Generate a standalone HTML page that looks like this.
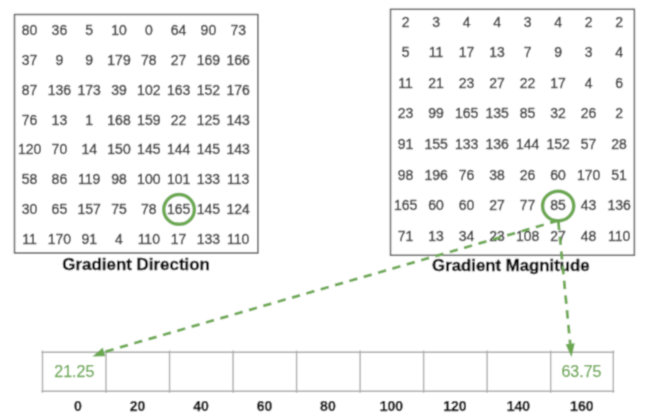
<!DOCTYPE html>
<html><head><meta charset="utf-8"><style>
html,body{margin:0;padding:0;background:#fff;}
svg{display:block;}
</style></head><body>
<svg width="648" height="420" viewBox="0 0 648 420">
<defs><filter id="bl" x="0" y="0" width="648" height="420" filterUnits="userSpaceOnUse"><feConvolveMatrix order="3" kernelMatrix="0.04 0.12 0.04 0.12 0.36 0.12 0.04 0.12 0.04" edgeMode="duplicate"/></filter></defs>
<g filter="url(#bl)">
<rect x="0" y="0" width="648" height="420" fill="#fff"/>
<g fill="none" stroke="#5a5a5a" stroke-width="1.5">
<rect x="14.5" y="14.5" width="243.4" height="238.5"/>
<rect x="390.5" y="9.3" width="243.9" height="246.0"/>
</g>
<g font-family="'Liberation Sans', sans-serif" font-size="14" fill="#383838" stroke="#383838" stroke-width="0.4" text-anchor="middle">
<text x="29.60" y="35.00">80</text>
<text x="59.40" y="35.00">36</text>
<text x="89.20" y="35.00">5</text>
<text x="119.00" y="35.00">10</text>
<text x="148.80" y="35.00">0</text>
<text x="178.60" y="35.00">64</text>
<text x="208.40" y="35.00">90</text>
<text x="238.20" y="35.00">73</text>
<text x="29.60" y="64.85">37</text>
<text x="59.40" y="64.85">9</text>
<text x="89.20" y="64.85">9</text>
<text x="119.00" y="64.85">179</text>
<text x="148.80" y="64.85">78</text>
<text x="178.60" y="64.85">27</text>
<text x="208.40" y="64.85">169</text>
<text x="238.20" y="64.85">166</text>
<text x="29.60" y="94.70">87</text>
<text x="59.40" y="94.70">136</text>
<text x="89.20" y="94.70">173</text>
<text x="119.00" y="94.70">39</text>
<text x="148.80" y="94.70">102</text>
<text x="178.60" y="94.70">163</text>
<text x="208.40" y="94.70">152</text>
<text x="238.20" y="94.70">176</text>
<text x="29.60" y="124.55">76</text>
<text x="59.40" y="124.55">13</text>
<text x="89.20" y="124.55">1</text>
<text x="119.00" y="124.55">168</text>
<text x="148.80" y="124.55">159</text>
<text x="178.60" y="124.55">22</text>
<text x="208.40" y="124.55">125</text>
<text x="238.20" y="124.55">143</text>
<text x="29.60" y="154.40">120</text>
<text x="59.40" y="154.40">70</text>
<text x="89.20" y="154.40">14</text>
<text x="119.00" y="154.40">150</text>
<text x="148.80" y="154.40">145</text>
<text x="178.60" y="154.40">144</text>
<text x="208.40" y="154.40">145</text>
<text x="238.20" y="154.40">143</text>
<text x="29.60" y="184.25">58</text>
<text x="59.40" y="184.25">86</text>
<text x="89.20" y="184.25">119</text>
<text x="119.00" y="184.25">98</text>
<text x="148.80" y="184.25">100</text>
<text x="178.60" y="184.25">101</text>
<text x="208.40" y="184.25">133</text>
<text x="238.20" y="184.25">113</text>
<text x="29.60" y="214.10">30</text>
<text x="59.40" y="214.10">65</text>
<text x="89.20" y="214.10">157</text>
<text x="119.00" y="214.10">75</text>
<text x="148.80" y="214.10">78</text>
<text x="178.60" y="214.10">165</text>
<text x="208.40" y="214.10">145</text>
<text x="238.20" y="214.10">124</text>
<text x="29.60" y="243.95">11</text>
<text x="59.40" y="243.95">170</text>
<text x="89.20" y="243.95">91</text>
<text x="119.00" y="243.95">4</text>
<text x="148.80" y="243.95">110</text>
<text x="178.60" y="243.95">17</text>
<text x="208.40" y="243.95">133</text>
<text x="238.20" y="243.95">110</text>
<text x="405.60" y="26.50">2</text>
<text x="436.10" y="26.50">3</text>
<text x="466.60" y="26.50">4</text>
<text x="497.10" y="26.50">4</text>
<text x="527.60" y="26.50">3</text>
<text x="558.10" y="26.50">4</text>
<text x="588.60" y="26.50">2</text>
<text x="619.10" y="26.50">2</text>
<text x="405.60" y="57.10">5</text>
<text x="436.10" y="57.10">11</text>
<text x="466.60" y="57.10">17</text>
<text x="497.10" y="57.10">13</text>
<text x="527.60" y="57.10">7</text>
<text x="558.10" y="57.10">9</text>
<text x="588.60" y="57.10">3</text>
<text x="619.10" y="57.10">4</text>
<text x="405.60" y="87.70">11</text>
<text x="436.10" y="87.70">21</text>
<text x="466.60" y="87.70">23</text>
<text x="497.10" y="87.70">27</text>
<text x="527.60" y="87.70">22</text>
<text x="558.10" y="87.70">17</text>
<text x="588.60" y="87.70">4</text>
<text x="619.10" y="87.70">6</text>
<text x="405.60" y="118.30">23</text>
<text x="436.10" y="118.30">99</text>
<text x="466.60" y="118.30">165</text>
<text x="497.10" y="118.30">135</text>
<text x="527.60" y="118.30">85</text>
<text x="558.10" y="118.30">32</text>
<text x="588.60" y="118.30">26</text>
<text x="619.10" y="118.30">2</text>
<text x="405.60" y="148.90">91</text>
<text x="436.10" y="148.90">155</text>
<text x="466.60" y="148.90">133</text>
<text x="497.10" y="148.90">136</text>
<text x="527.60" y="148.90">144</text>
<text x="558.10" y="148.90">152</text>
<text x="588.60" y="148.90">57</text>
<text x="619.10" y="148.90">28</text>
<text x="405.60" y="179.50">98</text>
<text x="436.10" y="179.50">196</text>
<text x="466.60" y="179.50">76</text>
<text x="497.10" y="179.50">38</text>
<text x="527.60" y="179.50">26</text>
<text x="558.10" y="179.50">60</text>
<text x="588.60" y="179.50">170</text>
<text x="619.10" y="179.50">51</text>
<text x="405.60" y="210.10">165</text>
<text x="436.10" y="210.10">60</text>
<text x="466.60" y="210.10">60</text>
<text x="497.10" y="210.10">27</text>
<text x="527.60" y="210.10">77</text>
<text x="558.10" y="210.10">85</text>
<text x="588.60" y="210.10">43</text>
<text x="619.10" y="210.10">136</text>
<text x="405.60" y="240.70">71</text>
<text x="436.10" y="240.70">13</text>
<text x="466.60" y="240.70">34</text>
<text x="497.10" y="240.70">23</text>
<text x="527.60" y="240.70">108</text>
<text x="558.10" y="240.70">27</text>
<text x="588.60" y="240.70">48</text>
<text x="619.10" y="240.70">110</text>
</g>
<g font-family="'Liberation Sans', sans-serif" font-size="16.4" font-weight="bold" fill="#000" stroke="#000" stroke-width="0.35">
<text x="62.3" y="270.4" textLength="147.6" lengthAdjust="spacingAndGlyphs">Gradient Direction</text>
<text x="432.1" y="270.6" textLength="157.5" lengthAdjust="spacingAndGlyphs">Gradient Magnitude</text>
</g>
<g fill="none" stroke="#6aa84f" stroke-width="3.5">
<ellipse cx="179.05" cy="209.4" rx="15.3" ry="14.85"/>
<ellipse cx="558.15" cy="205.95" rx="15.6" ry="14.8"/>
</g>
<g fill="none" stroke="#aaaaaa" stroke-width="1.4">
<line x1="41.50" y1="352.3" x2="614.30" y2="352.3"/>
<line x1="41.50" y1="391.2" x2="614.30" y2="391.2"/>
<line x1="42.50" y1="350.6" x2="42.50" y2="392.8"/>
<line x1="613.30" y1="350.6" x2="613.30" y2="392.8"/>
<line x1="106.02" y1="350.6" x2="106.02" y2="392.8"/>
<line x1="169.54" y1="350.6" x2="169.54" y2="392.8"/>
<line x1="233.06" y1="350.6" x2="233.06" y2="392.8"/>
<line x1="296.58" y1="350.6" x2="296.58" y2="392.8"/>
<line x1="360.10" y1="350.6" x2="360.10" y2="392.8"/>
<line x1="423.62" y1="350.6" x2="423.62" y2="392.8"/>
<line x1="487.14" y1="350.6" x2="487.14" y2="392.8"/>
<line x1="550.66" y1="350.6" x2="550.66" y2="392.8"/>
</g>
<g fill="none" stroke="#6aa84f" stroke-width="2.8">
<g stroke-dasharray="8.4 6.53" stroke-dashoffset="0.4"><line x1="557.80" y1="220.70" x2="104.31" y2="351.93"/></g>
<g stroke-dasharray="8.4 6.4" stroke-dashoffset="0.2"><line x1="558.40" y1="222.00" x2="570.25" y2="344.26"/></g>
</g>
<g fill="#6aa84f">
<polygon points="92.4,356.4 102.8,347.5 105.2,356.2"/>
<polygon points="571.50,357.20 565.62,344.21 574.78,343.32"/>
</g>
<g font-family="'Liberation Sans', sans-serif" font-size="16" fill="#6aa84f" stroke="#6aa84f" stroke-width="0.25" text-anchor="middle">
<text x="74.3" y="376.8">21.25</text>
<text x="581.5" y="376.5">63.75</text>
</g>
<g font-family="'Liberation Sans', sans-serif" font-size="14" font-weight="bold" fill="#000" stroke="#000" stroke-width="0.25" text-anchor="middle">
<text x="77.90" y="410.9">0</text>
<text x="137.50" y="410.9">20</text>
<text x="200.97" y="410.9">40</text>
<text x="264.44" y="410.9">60</text>
<text x="327.91" y="410.9">80</text>
<text x="391.38" y="410.9">100</text>
<text x="454.85" y="410.9">120</text>
<text x="518.32" y="410.9">140</text>
<text x="581.79" y="410.9">160</text>
</g>
</g>
</svg>
</body></html>
